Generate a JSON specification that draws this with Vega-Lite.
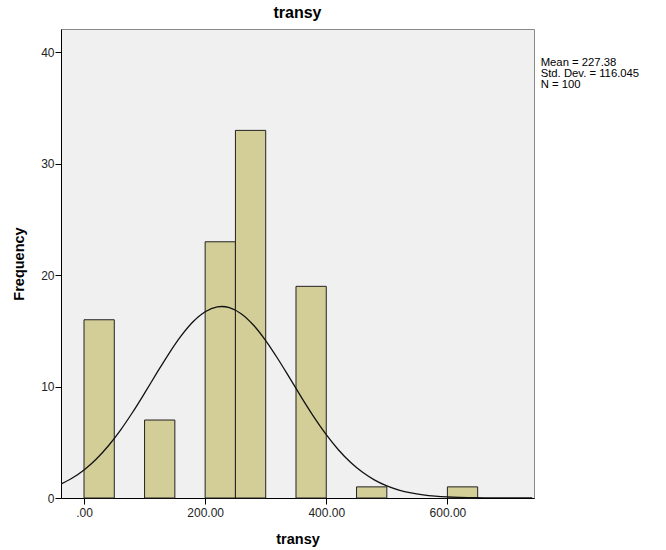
{
  "$schema": "https://vega.github.io/schema/vega-lite/v6.json",
  "autosize": {"type": "none"},
  "padding": {"left": 61, "top": 29, "right": 132, "bottom": 52},
  "width": 473,
  "height": 469,
  "background": "white",
  "title": {"text": "transy", "fontSize": 16, "fontWeight": "bold", "font": "Liberation Sans", "color": "#000", "offset": 8},
  "config": {
    "view": {"fill": "#f0f0f0", "stroke": "#888888", "strokeWidth": 1},
    "axis": {"grid": false, "domainColor": "#000", "tickColor": "#000", "labelFont": "Liberation Sans", "labelFontSize": 12, "labelColor": "#222", "titleFont": "Liberation Sans", "titleFontSize": 14.5, "titleFontWeight": "bold", "titleColor": "#000", "tickSize": 6}
  },
  "datasets": {
    "bins": [
      {"bin_start": 0, "bin_end": 50, "count": 16},
      {"bin_start": 100, "bin_end": 150, "count": 7},
      {"bin_start": 200, "bin_end": 250, "count": 23},
      {"bin_start": 250, "bin_end": 300, "count": 33},
      {"bin_start": 350, "bin_end": 400, "count": 19},
      {"bin_start": 450, "bin_end": 500, "count": 1},
      {"bin_start": 600, "bin_end": 650, "count": 1}
    ],
    "curve": [
      {"x": -40, "y": 1.209}, {"x": -20, "y": 1.772}, {"x": 0, "y": 2.521}, {"x": 20, "y": 3.482},
      {"x": 40, "y": 4.668}, {"x": 60, "y": 6.074}, {"x": 80, "y": 7.674}, {"x": 100, "y": 9.411},
      {"x": 120, "y": 11.203}, {"x": 140, "y": 12.947}, {"x": 160, "y": 14.523}, {"x": 180, "y": 15.815},
      {"x": 200, "y": 16.718}, {"x": 220, "y": 17.155}, {"x": 227.38, "y": 17.19}, {"x": 240, "y": 17.089},
      {"x": 260, "y": 16.524}, {"x": 280, "y": 15.51}, {"x": 300, "y": 14.133}, {"x": 320, "y": 12.501},
      {"x": 340, "y": 10.734}, {"x": 360, "y": 8.947}, {"x": 380, "y": 7.239}, {"x": 400, "y": 5.686},
      {"x": 420, "y": 4.335}, {"x": 440, "y": 3.208}, {"x": 460, "y": 2.305}, {"x": 480, "y": 1.608},
      {"x": 500, "y": 1.089}, {"x": 520, "y": 0.715}, {"x": 540, "y": 0.456}, {"x": 560, "y": 0.283},
      {"x": 580, "y": 0.17}, {"x": 600, "y": 0.099}, {"x": 620, "y": 0.056}, {"x": 640, "y": 0.031},
      {"x": 660, "y": 0.017}, {"x": 680, "y": 0.009}, {"x": 700, "y": 0.004}, {"x": 720, "y": 0.002},
      {"x": 740, "y": 0.001}
    ],
    "stats": [
      {"label": ["Mean = 227.38", "Std. Dev. = 116.045", "N = 100"], "sx": 754, "sy": 39.6}
    ]
  },
  "layer": [
    {
      "data": {"name": "bins"},
      "mark": {"type": "rect", "fill": "#d3ce98", "stroke": "#222", "strokeWidth": 1},
      "encoding": {
        "x": {"field": "bin_start", "type": "quantitative",
              "scale": {"domain": [-38, 743], "nice": false, "zero": false},
              "axis": {"values": [0, 200, 400, 600], "title": "transy", "titlePadding": 14, "labelPadding": 3,
                       "labelExpr": "datum.value == 0 ? '.00' : format(datum.value, '.2f')"}},
        "x2": {"field": "bin_end"},
        "y": {"field": "count", "type": "quantitative",
              "scale": {"domain": [0, 42.1], "nice": false},
              "axis": {"values": [0, 10, 20, 30, 40], "title": "Frequency", "titlePadding": 14, "labelPadding": 1}},
        "y2": {"datum": 0}
      }
    },
    {
      "data": {"name": "curve"},
      "mark": {"type": "line", "color": "#111", "strokeWidth": 1.3, "interpolate": "monotone", "clip": true},
      "encoding": {
        "x": {"field": "x", "type": "quantitative"},
        "y": {"field": "y", "type": "quantitative"}
      }
    },
    {
      "data": {"name": "stats"},
      "mark": {"type": "text", "align": "left", "baseline": "top", "font": "Liberation Sans", "fontSize": 11.3, "lineHeight": 11, "color": "#000"},
      "encoding": {
        "x": {"field": "sx", "type": "quantitative"},
        "y": {"field": "sy", "type": "quantitative"},
        "text": {"field": "label"}
      }
    }
  ]
}
